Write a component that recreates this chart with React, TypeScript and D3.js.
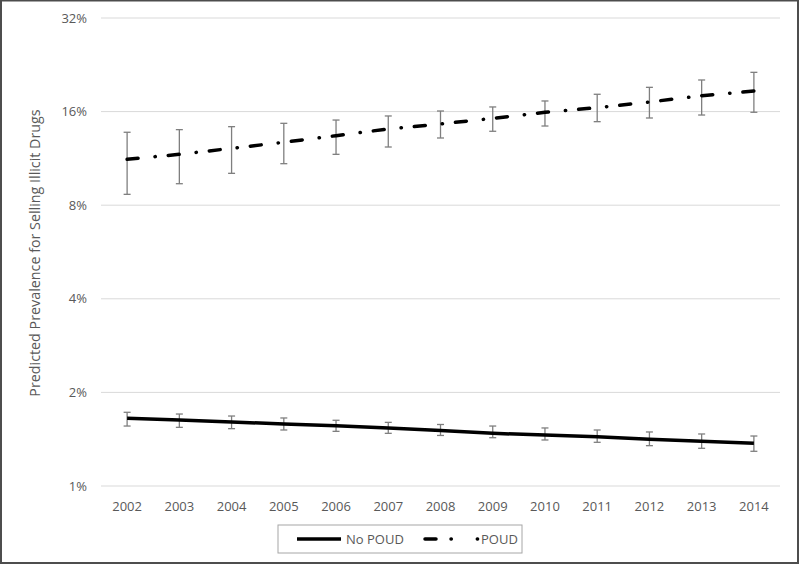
import React from "react";
import * as d3 from "d3";

const years = ["2002","2003","2004","2005","2006","2007","2008","2009","2010","2011","2012","2013","2014"];
const poud = [11.24, 11.66, 12.19, 12.75, 13.39, 14.07, 14.6, 15.22, 15.92, 16.47, 17.18, 18.0, 18.64];
const poudHi = [13.73, 14.0, 14.31, 14.67, 15.03, 15.49, 16.07, 16.56, 17.31, 18.19, 19.15, 20.22, 21.4];
const poudLo = [8.67, 9.38, 10.13, 10.88, 11.66, 12.31, 13.16, 13.83, 14.38, 14.85, 15.26, 15.6, 15.92];
const noPoud = [1.651, 1.63, 1.607, 1.583, 1.563, 1.537, 1.508, 1.477, 1.459, 1.441, 1.413, 1.393, 1.372];
const noPoudHi = [1.726, 1.704, 1.679, 1.655, 1.627, 1.602, 1.577, 1.559, 1.537, 1.514, 1.492, 1.47, 1.448];
const noPoudLo = [1.559, 1.544, 1.529, 1.514, 1.499, 1.477, 1.454, 1.43, 1.406, 1.382, 1.348, 1.322, 1.293];
const yTicks = [1, 2, 4, 8, 16, 32];
const yTitle = "Predicted Prevalence for Selling Illicit Drugs";
const legendLabels = ["No POUD", "POUD"];

const W = 800, H = 565;
const font = "Open Sans, Liberation Sans, sans-serif";

export default function App() {
  const x = d3.scaleBand().domain(years).range([101, 780]).padding(0);
  const y = d3.scaleLog().base(2).domain([1, 32]).range([486, 18]);
  const cx = (yr: string) => (x(yr) as number) + x.bandwidth() / 2;
  const line = d3.line<number>().x((_, i) => cx(years[i])).y((d) => y(d));
  const tickLabel = (v: number) => `${v}%`;
  const gray = "#595959";
  const errColor = "#7f7f7f";
  const bars = (hi: number[], lo: number[], key: string) =>
    years.map((yr, i) => {
      const xc = cx(yr);
      return (
        <g key={key + yr} stroke={errColor} strokeWidth={1.3}>
          <line x1={xc} x2={xc} y1={y(hi[i])} y2={y(lo[i])} />
          <line x1={xc - 3.5} x2={xc + 3.5} y1={y(hi[i])} y2={y(hi[i])} />
          <line x1={xc - 3.5} x2={xc + 3.5} y1={y(lo[i])} y2={y(lo[i])} />
        </g>
      );
    });
  const dash = "11,17,0.3,13";
  return (
    <svg width={W} height={H} style={{ position: "absolute", left: 0, top: 0, background: "#fff" }} fontFamily={font}>
      <rect x={0} y={0} width={W} height={H} fill="#fff" />
      {yTicks.map((t) => (
        <g key={t}>
          <line x1={101} x2={780} y1={y(t)} y2={y(t)} stroke="#d9d9d9" strokeWidth={1} />
          <text x={87} y={y(t)} dy="0.35em" textAnchor="end" fontSize={13} fill={gray}>{tickLabel(t)}</text>
        </g>
      ))}
      {years.map((yr) => (
        <text key={yr} x={cx(yr)} y={506} dy="0.35em" textAnchor="middle" fontSize={13} fill={gray}>{yr}</text>
      ))}
      <text transform={`translate(40,253) rotate(-90)`} textAnchor="middle" fontSize={14.3} fill={gray}>{yTitle}</text>
      {bars(noPoudHi, noPoudLo, "n")}
      {bars(poudHi, poudLo, "p")}
      <path d={line(noPoud) as string} fill="none" stroke="#000" strokeWidth={3.5} />
      <path d={line(poud) as string} fill="none" stroke="#000" strokeWidth={3.5} strokeDasharray={dash} strokeLinecap="round" />
      <rect x={278} y={525} width={244} height={28} fill="#fff" stroke="#a6a6a6" strokeWidth={1} />
      <line x1={297} x2={341} y1={539} y2={539} stroke="#000" strokeWidth={3.5} />
      <text x={346} y={539} dy="0.35em" fontSize={13} fill={gray}>{legendLabels[0]}</text>
      <line x1={425} x2={478} y1={539} y2={539} stroke="#000" strokeWidth={3.5} strokeDasharray="11,15,0.3,26,0.3,100" strokeLinecap="round" />
      <text x={481} y={539} dy="0.35em" fontSize={13} fill={gray}>{legendLabels[1]}</text>
      <rect x={1} y={0.5} width={W - 3} height={H - 2.5} fill="none" stroke="#4d4d4d" strokeWidth={2} />
    </svg>
  );
}
